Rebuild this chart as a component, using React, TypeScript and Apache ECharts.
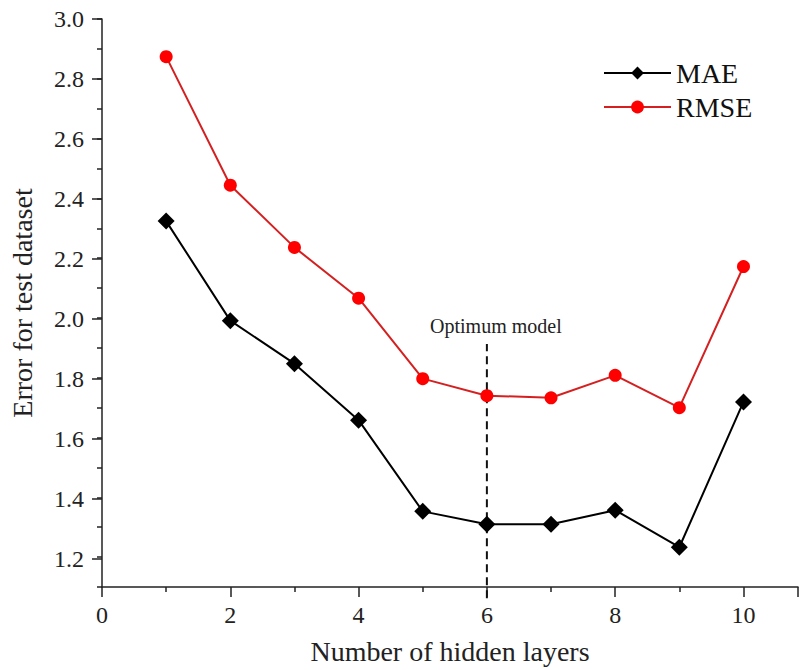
import React, { useEffect, useRef } from "react";
import * as echarts from "echarts";

const layers = [1, 2, 3, 4, 5, 6, 7, 8, 9, 10];
const maeValues = [2.324, 1.991, 1.847, 1.658, 1.353, 1.31, 1.31, 1.357, 1.233, 1.719];
const rmseValues = [2.874, 2.444, 2.236, 2.066, 1.797, 1.74, 1.733, 1.808, 1.7, 2.172];
const optimumX = 6;
const optimumSpan = [1.062, 1.913];
const optimumText = "Optimum model";
const xName = "Number of hidden layers";
const yName = "Error for test dataset";

const FONT = "Liberation Serif";
const AXIS_COLOR = "#222";

const tickRich = { t: { fontFamily: FONT, fontSize: 24, color: AXIS_COLOR } };

export default function App() {
  const ref = useRef<HTMLDivElement>(null);
  useEffect(() => {
    document.body.style.margin = "0";
    if (!ref.current) return;
    const chart = echarts.init(ref.current, undefined, { renderer: "svg" });
    const axisLine = { show: true, lineStyle: { color: AXIS_COLOR, width: 1.5 } };
    chart.setOption({
      animation: false,
      backgroundColor: "#fff",
      textStyle: { fontFamily: FONT },
      legend: {
        orient: "vertical",
        left: 603,
        top: 59,
        padding: 0,
        itemWidth: 67,
        itemHeight: 16,
        itemGap: 6,
        data: ["MAE", "RMSE"],
        textStyle: { fontFamily: FONT, fontSize: 28, color: "#111" },
      },
      grid: [
        { left: 102, right: 0, top: 19, bottom: 81, containLabel: false },
        { left: 102, right: 0, top: 19, bottom: 111, containLabel: false },
      ],
      xAxis: [
        {
          type: "value",
          gridIndex: 0,
          min: 0,
          max: 10.85,
          interval: 2,
          axisLine,
          axisTick: { show: true, length: 10, lineStyle: { color: AXIS_COLOR, width: 1.5 } },
          minorTick: { show: true, splitNumber: 2, length: 5, lineStyle: { color: AXIS_COLOR, width: 1.5 } },
          splitLine: { show: false },
          minorSplitLine: { show: false },
          axisLabel: {
            margin: 16,
            fontFamily: FONT,
            fontSize: 24,
            color: AXIS_COLOR,
            rich: tickRich,
            formatter: (v: number) =>
              Math.abs(v - Math.round(v)) < 1e-6 ? "{t|" + Math.round(v) + "}" : "",
          },
          name: xName,
          nameLocation: "middle",
          nameGap: 50,
          nameTextStyle: { fontFamily: FONT, fontSize: 28, color: AXIS_COLOR },
        },
        {
          type: "value",
          gridIndex: 1,
          min: 0,
          max: 10.85,
          show: false,
        },
      ],
      yAxis: [
        {
          type: "value",
          gridIndex: 0,
          min: 1.1,
          max: 3.0,
          interval: 0.1,
          axisLine,
          axisTick: { show: true, length: 5, lineStyle: { color: AXIS_COLOR, width: 1.5 } },
          splitLine: { show: false },
          axisLabel: { show: false },
          name: yName,
          nameLocation: "middle",
          nameGap: 66,
          nameTextStyle: { fontFamily: FONT, fontSize: 28, color: AXIS_COLOR },
        },
        {
          type: "value",
          gridIndex: 1,
          min: 1.2,
          max: 3.0,
          interval: 0.2,
          axisLine: { show: false },
          axisTick: { show: true, length: 10, lineStyle: { color: AXIS_COLOR, width: 1.5 } },
          splitLine: { show: false },
          axisLabel: {
            margin: 18,
            fontFamily: FONT,
            fontSize: 24,
            color: AXIS_COLOR,
            rich: tickRich,
            formatter: (v: number) => "{t|" + v.toFixed(1) + "}",
          },
        },
      ],
      series: [
        {
          name: "Optimum",
          type: "line",
          xAxisIndex: 0,
          yAxisIndex: 0,
          clip: false,
          symbol: "circle",
          symbolSize: 1,
          showSymbol: true,
          silent: true,
          itemStyle: { color: "rgba(0,0,0,0)" },
          lineStyle: { color: "#111", width: 2, type: [8, 5] },
          data: [
            [optimumX, optimumSpan[0]],
            {
              value: [optimumX, optimumSpan[1]],
              label: {
                show: true,
                position: "top",
                distance: 7,
                offset: [9, 0],
                formatter: optimumText,
                fontFamily: FONT,
                fontSize: 20,
                color: "#222",
              },
            },
          ],
          z: 1,
        },
        {
          name: "MAE",
          type: "line",
          xAxisIndex: 0,
          yAxisIndex: 0,
          symbol: "diamond",
          symbolSize: 17,
          itemStyle: { color: "#000" },
          lineStyle: { color: "#000", width: 2 },
          data: layers.map((x, i) => [x, maeValues[i]]),
          z: 3,
        },
        {
          name: "RMSE",
          type: "line",
          xAxisIndex: 0,
          yAxisIndex: 0,
          symbol: "circle",
          symbolSize: 13,
          itemStyle: { color: "#ff0000" },
          lineStyle: { color: "#d42020", width: 2 },
          data: layers.map((x, i) => [x, rmseValues[i]]),
          z: 3,
        },
      ],
    });
    return () => chart.dispose();
  }, []);
  return <div ref={ref} style={{ width: 801, height: 670 }} />;
}
